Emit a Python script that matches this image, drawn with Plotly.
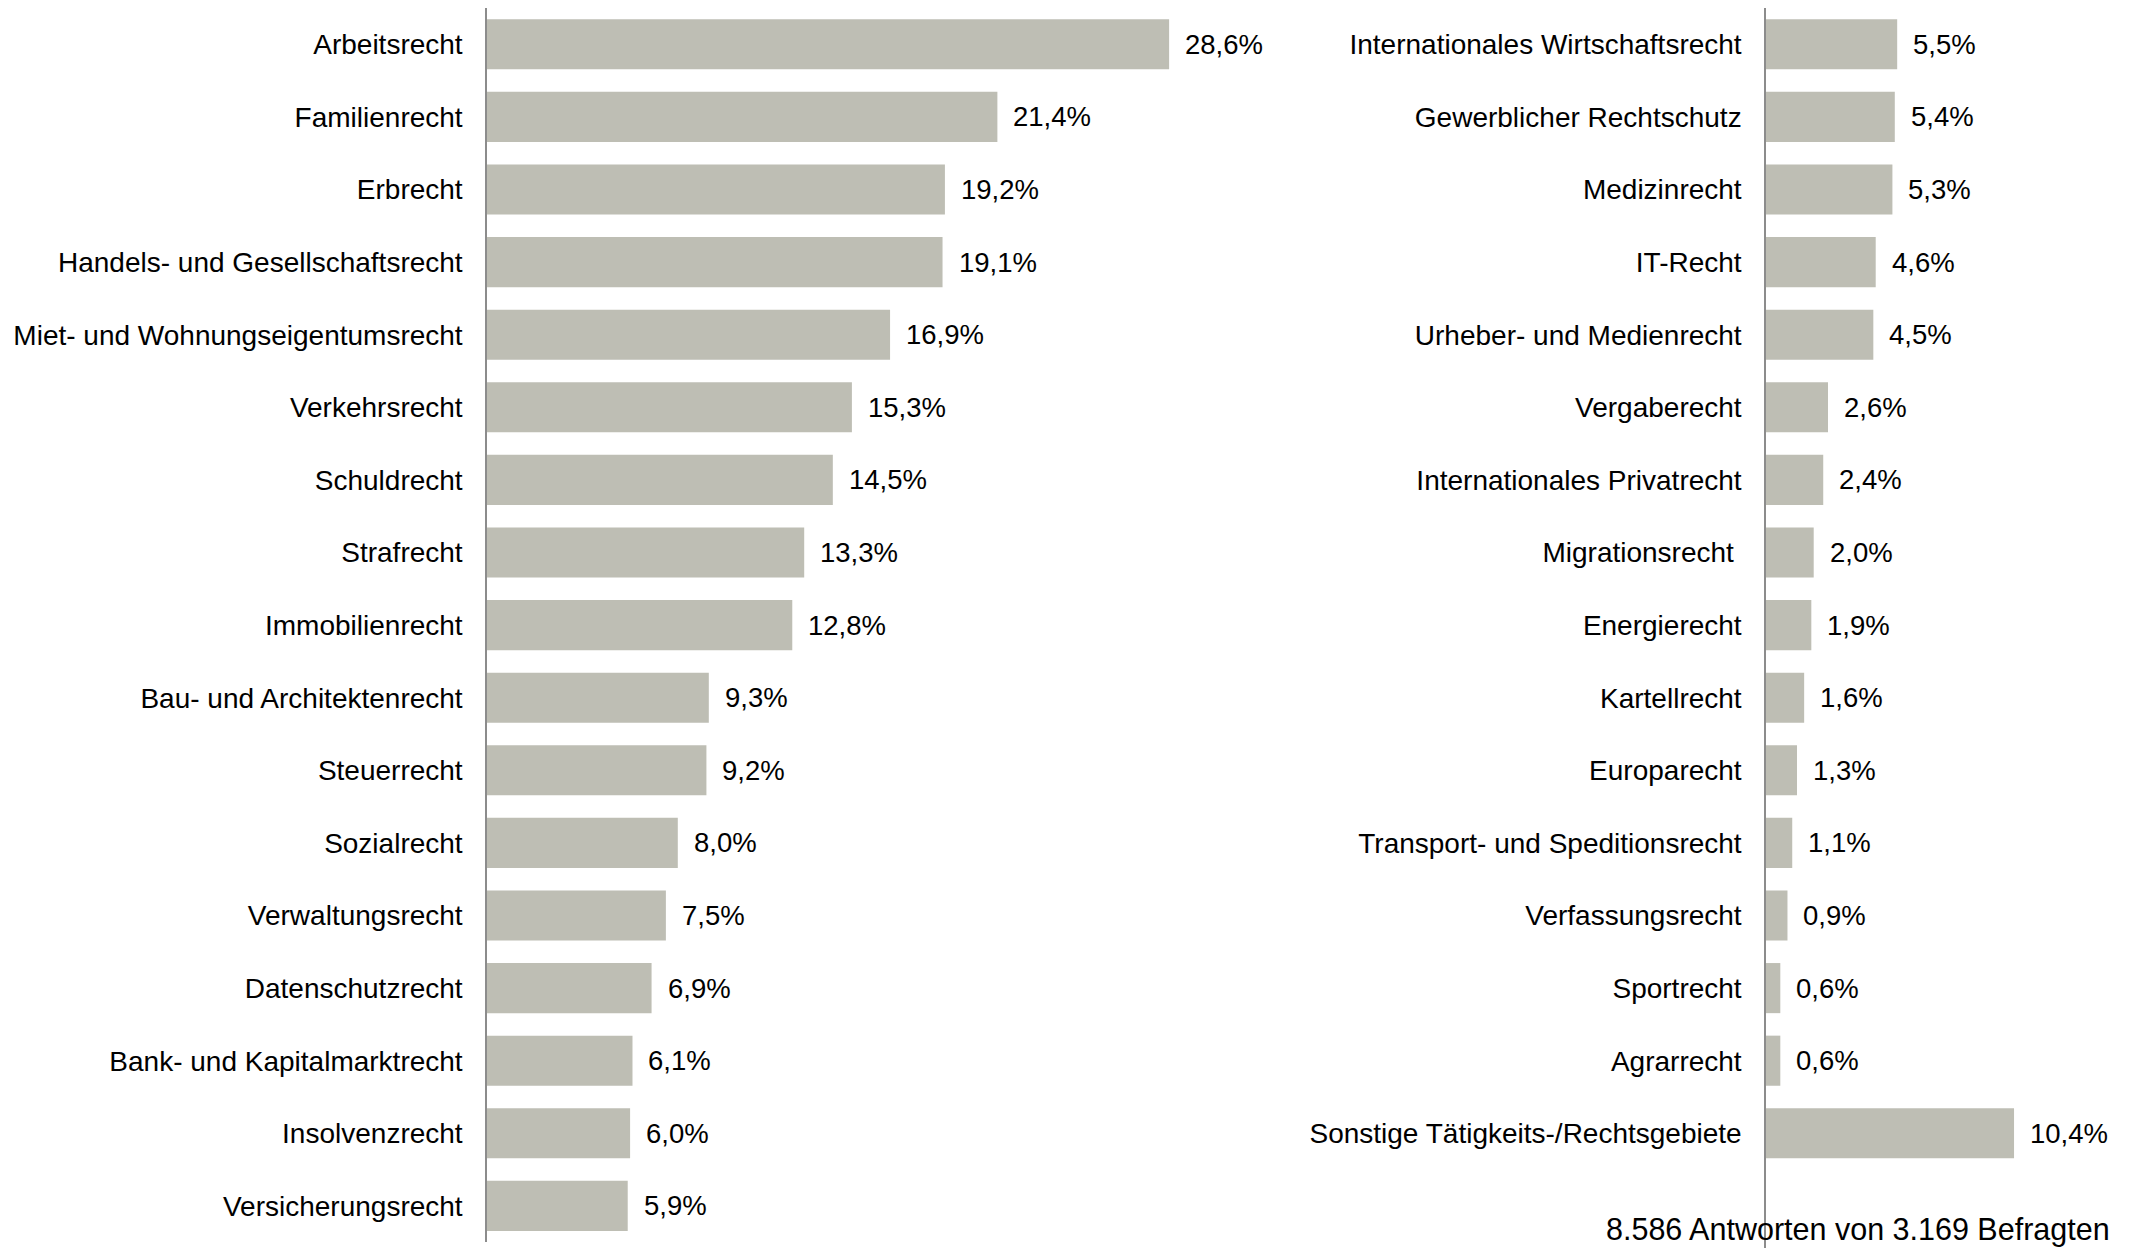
import plotly.graph_objects as go

left_categories = [
    "Arbeitsrecht", "Familienrecht", "Erbrecht", "Handels- und Gesellschaftsrecht",
    "Miet- und Wohnungseigentumsrecht", "Verkehrsrecht", "Schuldrecht", "Strafrecht",
    "Immobilienrecht", "Bau- und Architektenrecht", "Steuerrecht", "Sozialrecht",
    "Verwaltungsrecht", "Datenschutzrecht", "Bank- und Kapitalmarktrecht",
    "Insolvenzrecht", "Versicherungsrecht",
]
left_values = [28.6, 21.4, 19.2, 19.1, 16.9, 15.3, 14.5, 13.3, 12.8, 9.3, 9.2, 8.0,
               7.5, 6.9, 6.1, 6.0, 5.9]

right_categories = [
    "Internationales Wirtschaftsrecht", "Gewerblicher Rechtschutz", "Medizinrecht",
    "IT-Recht", "Urheber- und Medienrecht", "Vergaberecht",
    "Internationales Privatrecht", "Migrationsrecht\u00a0", "Energierecht",
    "Kartellrecht", "Europarecht", "Transport- und Speditionsrecht",
    "Verfassungsrecht", "Sportrecht", "Agrarrecht",
    "Sonstige Tätigkeits-/Rechtsgebiete",
]
right_values = [5.5, 5.4, 5.3, 4.6, 4.5, 2.6, 2.4, 2.0, 1.9, 1.6, 1.3, 1.1, 0.9,
                0.6, 0.6, 10.4]

note_text = "8.586 Antworten von 3.169 Befragten"

# page body has an 8px margin, so the figure is sized to fill the rest
OFF = 8
W, H = 2132 - OFF, 1248 - OFF
FONT = "Arial, Liberation Sans, sans-serif"
BAR_COLOR = "#BEBEB4"
AXIS_COLOR = "#8C8C8C"
PX_PER_UNIT = 23.85
PITCH = 72.6
TOP = 0
LABEL_SIZE = 28

def fmt(v):
    return f"{v:.1f}".replace(".", ",") + "%"

fig = go.Figure()
fig.add_trace(go.Bar(x=left_values, y=left_categories, orientation="h",
                     marker=dict(color=BAR_COLOR, line=dict(width=0)),
                     xaxis="x", yaxis="y", hoverinfo="skip"))
fig.add_trace(go.Bar(x=right_values, y=right_categories, orientation="h",
                     marker=dict(color=BAR_COLOR, line=dict(width=0)),
                     xaxis="x2", yaxis="y2", hoverinfo="skip"))

annotations = []
for c, v in zip(left_categories, left_values):
    annotations.append(dict(x=v, y=c, xref="x", yref="y", text=fmt(v), showarrow=False,
                            xanchor="left", xshift=14,
                            font=dict(size=27.5, color="black", family=FONT)))
for c, v in zip(right_categories, right_values):
    annotations.append(dict(x=v, y=c, xref="x2", yref="y2", text=fmt(v), showarrow=False,
                            xanchor="left", xshift=14,
                            font=dict(size=27.5, color="black", family=FONT)))
annotations.append(dict(x=1.0, y=0, xref="paper", yref="paper", text=note_text, showarrow=False,
                        xanchor="right", yanchor="middle", xshift=-20, yshift=19,
                        font=dict(size=30.5, color="black", family=FONT)))

left_axis_px = 487 - OFF
right_axis_px = 1766 - OFF
left_range = 30
left_x0 = left_axis_px / W
left_x1 = (left_axis_px + left_range * PX_PER_UNIT) / W
right_x0 = right_axis_px / W
right_range = (W - right_axis_px) / PX_PER_UNIT

left_bottom_px = TOP + len(left_categories) * PITCH
y_dom_top = 1 - TOP / H
left_dom = [max(0, (H - left_bottom_px) / H), y_dom_top]
right_units = (H - TOP) / PITCH

axis_common = dict(showline=True, linecolor=AXIS_COLOR, linewidth=1.5, ticks="",
                   showgrid=False, zeroline=False, ticklabelstandoff=17,
                   tickfont=dict(size=LABEL_SIZE, color="black", family=FONT), type="category")

fig.update_layout(
    width=W, height=H,
    margin=dict(l=0, r=0, t=0, b=0),
    paper_bgcolor="white", plot_bgcolor="white",
    showlegend=False, bargap=0.31,
    font=dict(family=FONT, color="black"),
    xaxis=dict(domain=[left_x0, left_x1], range=[0, left_range], visible=False),
    yaxis=dict(domain=left_dom, range=[len(left_categories) - 0.5, -0.5], anchor="x", **axis_common),
    xaxis2=dict(domain=[right_x0, 1.0], range=[0, right_range], visible=False, anchor="y2"),
    yaxis2=dict(domain=[0, y_dom_top], range=[right_units - 0.5, -0.5], anchor="x2", **axis_common),
    annotations=annotations,
)

fig.write_html("out.html")
